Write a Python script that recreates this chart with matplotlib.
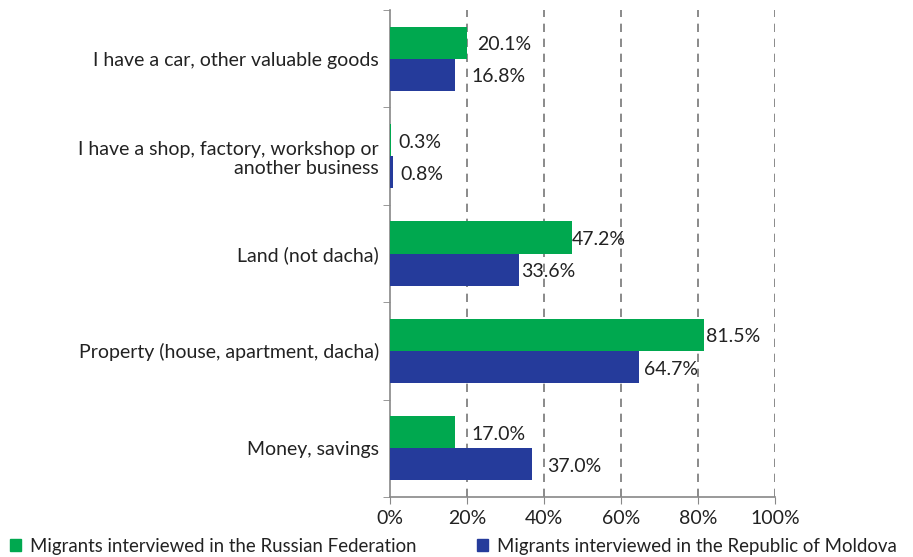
import matplotlib
matplotlib.use("Agg")
import matplotlib.pyplot as plt
import numpy as np
from matplotlib.patches import Patch

categories = [
    "I have a car, other valuable goods",
    "I have a shop, factory, workshop or\nanother business",
    "Land (not dacha)",
    "Property (house, apartment, dacha)",
    "Money, savings",
]
russia = [20.1, 0.3, 47.2, 81.5, 17.0]
moldova = [16.8, 0.8, 33.6, 64.7, 37.0]
series_names = ["Migrants interviewed in the Russian Federation",
                "Migrants interviewed in the Republic of Moldova"]
xticks = [0, 20, 40, 60, 80, 100]

# label horizontal offsets (pixels) as placed in the original
russia_dx = [10, 7, 0, 2, 16]
moldova_dx = [17, 7, 2, 5, 15]

green = "#00a84f"
blue = "#253b9b"
plt.rcParams['font.family'] = ['Lato', 'DejaVu Sans']
fs = 14

fig = plt.figure(figsize=(9.13, 5.57), dpi=100)
ax = fig.add_axes([390/913, 1-497/557, 385/913, 487/557])

n = len(categories)
y = np.arange(n)
h = 0.33
ax.barh(y - h/2, russia, height=h, color=green, zorder=3)
ax.barh(y + h/2, moldova, height=h, color=blue, zorder=3)
for yi, v, dx in zip(y, russia, russia_dx):
    ax.annotate(f"{v:.1f}%", (v, yi - h/2), xytext=(dx * 0.72, -1.5), textcoords='offset points',
                va='center', ha='left', fontsize=fs, color='#222222', zorder=4)
for yi, v, dx in zip(y, moldova, moldova_dx):
    ax.annotate(f"{v:.1f}%", (v, yi + h/2), xytext=(dx * 0.72, -1.5), textcoords='offset points',
                va='center', ha='left', fontsize=fs, color='#222222', zorder=4)

ax.set_xlim(0, 100)
ax.set_ylim(n - 0.5, -0.5)
ax.set_xticks(xticks)
ax.set_xticklabels([f"{t}%" for t in xticks], fontsize=fs, color='#222222')
ax.set_yticks(y)
ax.set_yticklabels(categories, fontsize=fs, ha='right', multialignment='right', color='#222222')
ax.set_yticks(np.arange(-0.5, n, 1.0), minor=True)
ax.tick_params(axis='y', which='major', length=0, pad=8)
ax.tick_params(axis='y', which='minor', length=5, color='#888888', direction='out')
ax.tick_params(axis='x', length=5, color='#888888', direction='out', pad=4)

for t in xticks[1:]:
    ax.axvline(t, color='#777777', linestyle=(0, (5, 4)), linewidth=1.2, zorder=1)

for s in ['top', 'right']:
    ax.spines[s].set_visible(False)
for s in ['left', 'bottom']:
    ax.spines[s].set_color('#888888')
    ax.spines[s].set_linewidth(1.2)

handles = [Patch(color=green), Patch(color=blue)]
fig.legend(handles, series_names, loc='lower left', bbox_to_anchor=(10/913, 0.004),
           ncol=2, frameon=False, fontsize=13.4, handlelength=0.6, handleheight=0.65,
           handletextpad=0.5, columnspacing=3.2, borderaxespad=0, borderpad=0,
           labelcolor='#222222')

fig.savefig("out.png", dpi=100)
